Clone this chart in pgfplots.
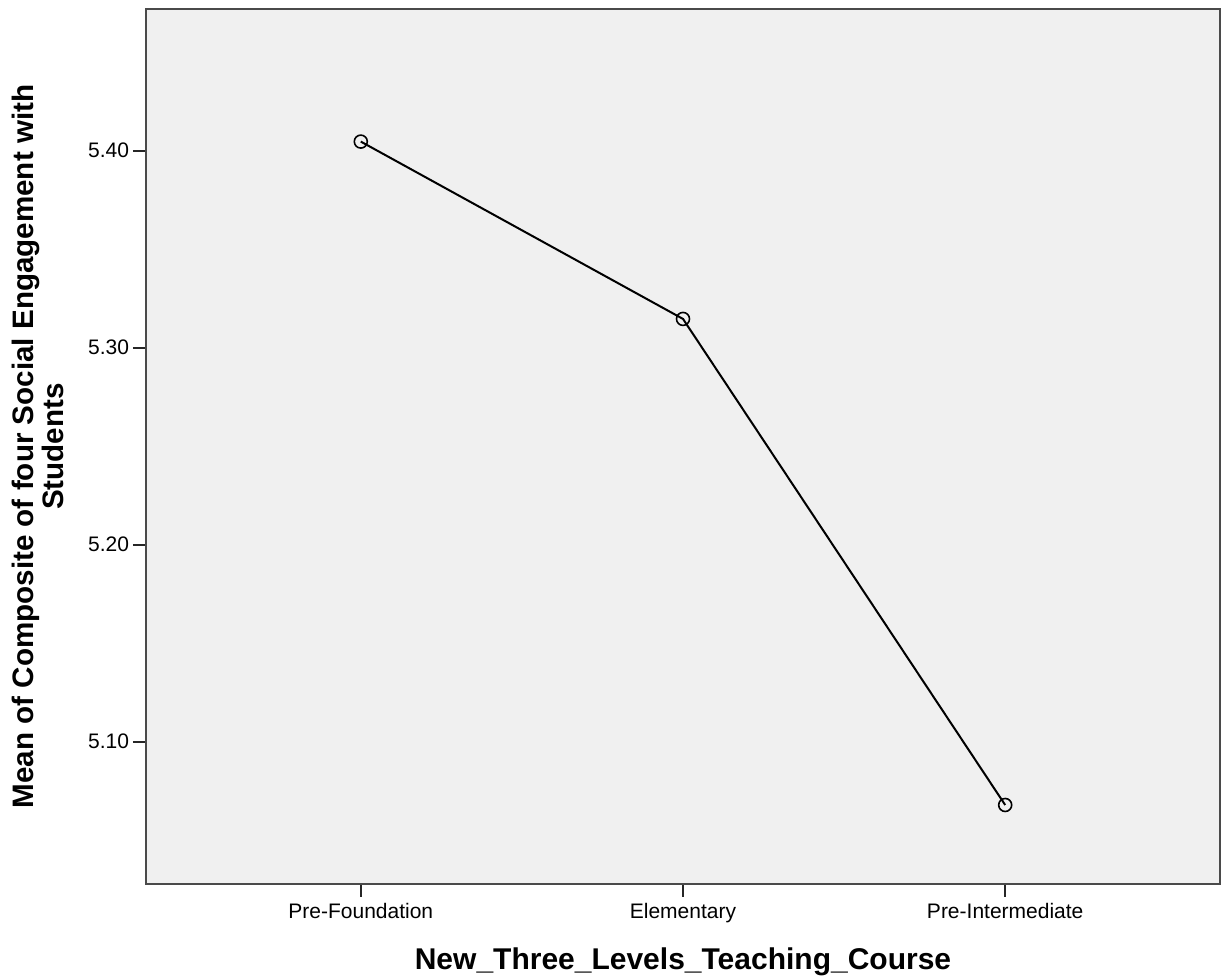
\documentclass[border=0pt]{standalone}
\usepackage{fontspec}
\setmainfont{Liberation Sans}
\usepackage{pgfplots}
\pgfplotsset{compat=1.18}
\definecolor{bgc}{HTML}{F0F0F0}
\definecolor{framec}{HTML}{4A4A4A}
\begin{document}
\begin{tikzpicture}
\begin{axis}[
  scale only axis,
  width=537pt, height=437.5pt,
  xmin=-0.6667, xmax=2.6667,
  ymin=5.0278, ymax=5.4719,
  axis background/.style={fill=bgc},
  axis line style={draw=framec, line width=1.25pt},
  tick pos=left,
  tick align=outside,
  major tick length=6.5pt,
  tick style={line width=1pt, color=black!85},
  xtick=data,
  xticklabels={Pre-Foundation, Elementary, Pre-Intermediate},
  ytick={5.1,5.2,5.3,5.4},
  /pgf/number format/assume math mode=true,
  yticklabel style={/pgf/number format/fixed, /pgf/number format/fixed zerofill, /pgf/number format/precision=2, font=\fontsize{10.5}{12}\selectfont, inner sep=0pt, anchor=east, xshift=-1.75pt},
  xticklabel style={font=\fontsize{10.5}{12}\selectfont, inner sep=0pt, anchor=north, yshift=-3pt},
  xlabel={New\_Three\_Levels\_Teaching\_Course},
  xlabel style={at={(axis description cs:0.5,0)}, anchor=base, inner sep=0pt, yshift=-42.5pt, font=\bfseries\fontsize{15}{18}\selectfont},
  ylabel={Mean of Composite of four Social Engagement with\\Students},
  ylabel style={at={(axis description cs:-0.07635,0.5)}, anchor=south, inner sep=0pt, align=center, font=\bfseries\fontsize{14.8}{13.5}\selectfont},
]
\addplot[black, line width=1pt, mark=o, mark size=3.25pt, mark options={line width=0.8pt, fill=none}] coordinates {
  (0,5.4046) (1,5.3146) (2,5.0679)
};
\end{axis}
\pgfresetboundingbox
\useasboundingbox (-73pt,-47.5pt) rectangle (537.5pt,442pt);
\end{tikzpicture}
\end{document}
